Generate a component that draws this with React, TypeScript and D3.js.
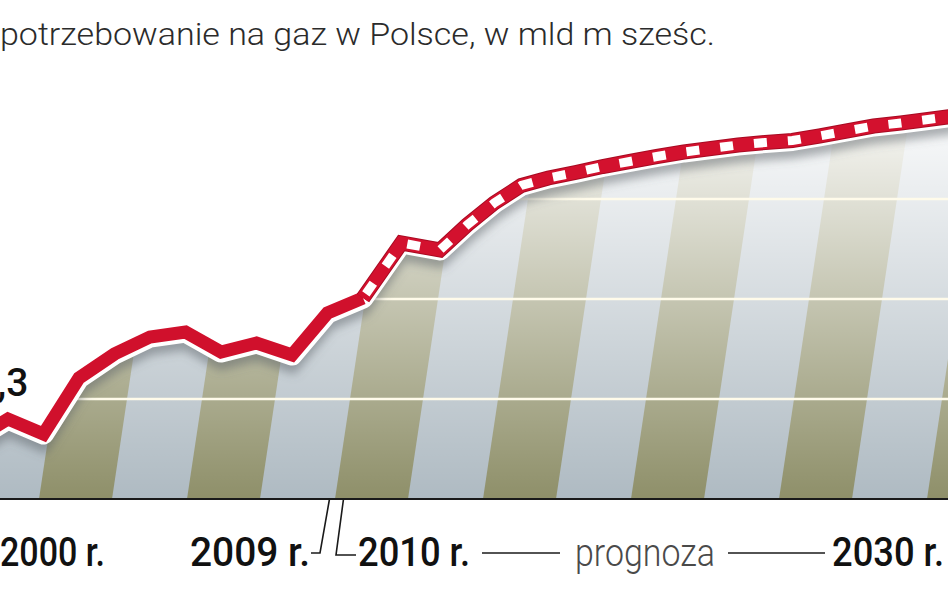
import * as d3 from 'd3'

// Zapotrzebowanie na gaz w Polsce, mld m sześc.
const histYears = [1998, 1999, 2000, 2001, 2002, 2003, 2004, 2005, 2006, 2007, 2008, 2009]
const histValues = [11.16, 11.6, 11.3, 12.42, 12.9, 13.24, 13.34, 12.94, 13.12, 12.88, 13.72, 14.02]

const fcYears = [2009, 2010, 2011, 2012, 2013, 2014, 2015, 2016, 2017, 2018, 2019, 2020, 2021, 2022, 2023, 2024, 2025, 2026, 2027, 2028, 2029, 2030]
const fcValues = [14.02, 15.12, 14.98, 15.48, 15.92, 16.27, 16.42, 16.53, 16.65, 16.75, 16.85, 16.94, 17.01, 17.08, 17.13, 17.17, 17.26, 17.36, 17.46, 17.52, 17.59, 17.66]

const gridValues = [12, 14, 16]
const title = 'potrzebowanie na gaz w Polsce, w mld m sześc.'
const firstValueLabel = '11,3'

const W = 948
const H = 593

type Pt = { year: number; value: number }

const hist: Pt[] = histYears.map((year, i) => ({ year, value: histValues[i] }))
const fc: Pt[] = fcYears.map((year, i) => ({ year, value: fcValues[i] }))
const all: Pt[] = [...hist, ...fc.slice(1)]

// broken time axis: history and forecast have their own spacing
const x = d3.scaleLinear().domain([1999, 2009, 2011, 2030]).range([8, 363, 440, 955])
const y = d3.scaleLinear().domain([10, 18]).range([499, 99])

const line = d3.line<Pt>().x((d) => x(d.year)).y((d) => y(d.value))
const area = d3
  .area<Pt>()
  .x((d) => x(d.year))
  .y0(y(10))
  .y1((d) => y(d.value))

const STRIPE_PERIOD = 148
const STRIPE_W = 73
const STRIPE_SLANT = 0.15

function stripes() {
  const bottom = y(10)
  const top = 60
  const dx = (bottom - top) * STRIPE_SLANT
  const out: string[] = []
  for (let x0 = 39 - STRIPE_PERIOD; x0 < W + 20; x0 += STRIPE_PERIOD) {
    out.push(`M${x0},${bottom}L${x0 + STRIPE_W},${bottom}L${x0 + STRIPE_W + dx},${top}L${x0 + dx},${top}Z`)
  }
  return out
}

const labelFont = "Roboto, 'Liberation Sans', sans-serif"

export default function App() {
  const base = y(10)
  return (
    <svg
      width={W}
      height={H}
      viewBox={`0 0 ${W} ${H}`}
      style={{ position: 'absolute', left: 0, top: 0, background: '#fff' }}
    >
      <defs>
        <clipPath id="areaClip">
          <path d={area(all) ?? ''} />
        </clipPath>
        <linearGradient id="fade" x1="0" y1={base} x2="0" y2={y(18)} gradientUnits="userSpaceOnUse">
          <stop offset="0" stopColor="#fff" stopOpacity={0.02} />
          <stop offset="1" stopColor="#fff" stopOpacity={0.97} />
        </linearGradient>
        <filter id="shadow" x="-10%" y="-50%" width="120%" height="200%">
          <feGaussianBlur stdDeviation="5" />
        </filter>
      </defs>

      <g clipPath="url(#areaClip)">
        <rect x={0} y={0} width={W} height={base} fill="#adb9c1" />
        {stripes().map((d, i) => (
          <path key={i} d={d} fill="#8c8d66" />
        ))}
        <rect x={0} y={0} width={W} height={base} fill="url(#fade)" />
        {gridValues.map((v) => (
          <line key={v} x1={0} x2={W} y1={y(v)} y2={y(v)} stroke="#fffbea" strokeWidth={2.5} />
        ))}
        <path
          d={line(all) ?? ''}
          transform="translate(0,10)"
          fill="none"
          stroke="#5a6066"
          strokeOpacity={0.5}
          strokeWidth={16}
          filter="url(#shadow)"
        />
      </g>

      <line x1={0} x2={W} y1={base} y2={base} stroke="#1a1a1a" strokeWidth={2} />

      {/* line */}
      <path d={line(all) ?? ''} fill="none" stroke="#fff" strokeWidth={21} strokeLinejoin="round" />
      <path d={line(hist) ?? ''} fill="none" stroke="#d0102c" strokeWidth={13} strokeLinejoin="miter" />
      <path d={line(fc) ?? ''} fill="none" stroke="#a80a22" strokeWidth={15} strokeLinejoin="miter" />
      <path d={line(fc) ?? ''} fill="none" stroke="#d3112e" strokeWidth={13} strokeLinejoin="miter" />
      <path
        d={line(fc) ?? ''}
        fill="none"
        stroke="#fff"
        strokeWidth={9}
        strokeDasharray="13 21"
        strokeDashoffset={-5}
      />

      <text
        x={x(2000) - 15}
        y={396}
        textAnchor="end"
        fontFamily={labelFont}
        fontWeight={500}
        fontSize={39}
        fill="#111"
      >
        {firstValueLabel}
      </text>

      <text
        x={0}
        y={45}
        fontFamily="Roboto, 'Liberation Sans', sans-serif"
        fontWeight={300}
        fontSize={32}
        fill="#2b2b2b"
        textLength={715}
        lengthAdjust="spacingAndGlyphs"
      >
        {title}
      </text>

      {/* x labels */}
      <g fontFamily={labelFont} fontWeight={500} fontSize={40} fill="#111">
        <text x={0} y={566} textLength={105} lengthAdjust="spacingAndGlyphs">2000 r.</text>
        <text x={190} y={566} textLength={120} lengthAdjust="spacingAndGlyphs">2009 r.</text>
        <text x={358} y={566} textLength={112} lengthAdjust="spacingAndGlyphs">2010 r.</text>
        <text x={832} y={566} textLength={112} lengthAdjust="spacingAndGlyphs">2030 r.</text>
      </g>
      <text
        x={575}
        y={566}
        fontFamily={labelFont}
        fontWeight={300}
        fontSize={39}
        fill="#4a4a4a"
        textLength={140}
        lengthAdjust="spacingAndGlyphs"
      >
        prognoza
      </text>

      <g fill="none" stroke="#1a1a1a" strokeWidth={1.6}>
        <path d={`M311,553L320,553L${x(2008) + 2},${base}`} />
        <path d={`M${x(2008) + 16},${base}L336,555L356,555`} />
        <line x1={482} x2={560} y1={553} y2={553} />
        <line x1={728} x2={825} y1={553} y2={553} />
      </g>
    </svg>
  )
}
